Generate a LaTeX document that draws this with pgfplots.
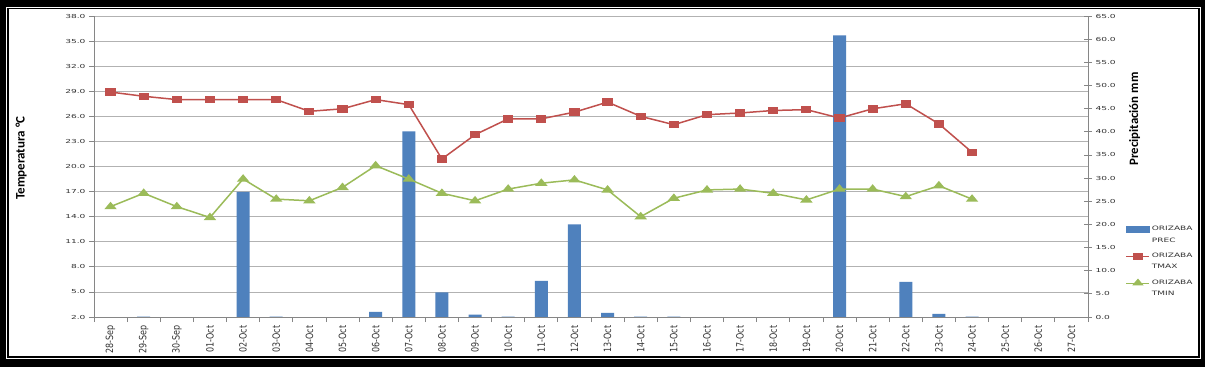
\documentclass[border=0pt]{standalone}
\usepackage{pgfplots}
\pgfplotsset{compat=1.18}
\usepackage{fontspec}
\usepackage{graphicx}
\setmainfont{DejaVu Sans}
\newfontfamily\titlefont{Carlito}

\definecolor{precblue}{RGB}{79,129,189}
\definecolor{tmaxred}{RGB}{192,80,77}
\definecolor{tmingreen}{RGB}{155,187,89}
\definecolor{gridgray}{RGB}{178,178,178}
\definecolor{axisgray}{RGB}{134,134,134}
\definecolor{labgray}{RGB}{50,50,50}

\newcommand{\xl}[1]{\scalebox{1}[1.25]{#1}}
\newcommand{\lgd}[1]{\scalebox{1.5}[1]{#1}}

\pgfplotsset{
  base/.style={at={(94pt,50pt)}, anchor=south west, scale only axis,
    width=994pt, height=301pt, xmin=-0.5, xmax=29.5},
  mylinelegend/.style={legend image code/.code={%
    \draw[mark repeat=2,mark phase=2,##1,line width=0.9pt] plot coordinates {(0pt,5.75pt) (11.5pt,5.75pt) (23pt,5.75pt)};}},
}

\begin{document}
\begin{tikzpicture}
\useasboundingbox (0,0) rectangle (1205pt,367pt);
\fill[black] (0,0) rectangle (1205pt,367pt);
\fill[white] (6pt,8pt) rectangle (1200.5pt,360pt);
\fill[black] (7.3pt,9pt) rectangle (1199.5pt,359pt);
\fill[white] (9.3pt,11pt) rectangle (1197.5pt,357.7pt);

% Axis A: temperature axis, grid, x labels
\begin{axis}[base,
  ymin=2, ymax=38, ytick={2,5,...,38},
  axis y line*=left, axis x line*=bottom,
  ymajorgrids, grid style={gridgray, line width=0.8pt},
  tick align=outside, major tick length=5pt,
  axis line style={axisgray, line width=0.8pt},
  every tick/.style={axisgray, line width=0.8pt},
  xtick={-0.5,0.5,...,29.5}, xticklabel=\empty,
  extra x ticks={0,1,...,29},
  extra x tick labels={\xl{28-Sep},\xl{29-Sep},\xl{30-Sep},\xl{01-Oct},\xl{02-Oct},\xl{03-Oct},\xl{04-Oct},\xl{05-Oct},\xl{06-Oct},\xl{07-Oct},\xl{08-Oct},\xl{09-Oct},\xl{10-Oct},\xl{11-Oct},\xl{12-Oct},\xl{13-Oct},\xl{14-Oct},\xl{15-Oct},\xl{16-Oct},\xl{17-Oct},\xl{18-Oct},\xl{19-Oct},\xl{20-Oct},\xl{21-Oct},\xl{22-Oct},\xl{23-Oct},\xl{24-Oct},\xl{25-Oct},\xl{26-Oct},\xl{27-Oct}},
  extra x tick style={tick style={draw=none}, grid=none},
  xticklabel style={rotate=90, anchor=east, font=\fontsize{8}{8}\selectfont, text=labgray},
  yticklabel={\scalebox{1.65}[1]{\pgfmathprintnumber[fixed,fixed zerofill,precision=1,assume math mode=true]{\tick}}},
  yticklabel style={font=\fontsize{5.5}{6}\selectfont, text=labgray},
  every axis y label/.style={at={(axis description cs:-0.0734,0.528)}, rotate=90, anchor=center},
  ylabel={\titlefont\bfseries\fontsize{13}{14}\selectfont Temperatura °C},
]
\end{axis}

% Axis B: precipitation axis with bars
\begin{axis}[base,
  ymin=0, ymax=65, ytick={0,5,...,65},
  axis y line*=right, axis x line=none,
  tick align=center, major tick length=8pt,
  axis line style={axisgray, line width=0.8pt},
  every tick/.style={axisgray, line width=0.8pt},
  yticklabel={\scalebox{1.65}[1]{\pgfmathprintnumber[fixed,fixed zerofill,precision=1,assume math mode=true]{\tick}}},
  yticklabel style={font=\fontsize{5.5}{6}\selectfont, text=labgray},
  every axis y label/.style={at={(axis description cs:1.047,0.658)}, rotate=90, anchor=center},
  ylabel={\titlefont\bfseries\fontsize{12.8}{14}\selectfont Precipitación mm},
]
\addplot[ybar, bar width=13pt, fill=precblue, draw=none] coordinates {
 (1,0.1) (4,27.0) (5,0.1) (8,1.1) (9,40.1) (10,5.3) (11,0.5) (12,0.1)
 (13,7.8) (14,20.0) (15,0.9) (16,0.1) (17,0.1) (22,60.8) (24,7.6) (25,0.7) (26,0.1)
};
\end{axis}

% Axis C: temperature lines and legend
\begin{axis}[base,
  ymin=2, ymax=38, hide axis, clip=false,
  legend style={at={(1.035,0.316)}, anchor=north west, draw=none, fill=none,
    font=\fontsize{6}{11.5}\selectfont, nodes={align=left, text=labgray}, row sep=5.5pt},
  legend cell align=left,
]
\addlegendimage{legend image code/.code={\fill[precblue] (0pt,2.95pt) rectangle (23pt,8.55pt);}}
\addlegendentry{\lgd{ORIZABA}\\\lgd{PREC}}
\addplot[tmaxred, line width=1.5pt, mark=square*, mark size=3pt,
  mark options={xscale=1.45, fill=tmaxred, draw=tmaxred}, mylinelegend] coordinates {
 (0,28.9) (1,28.4) (2,28.0) (3,28.0) (4,28.0) (5,28.0) (6,26.6) (7,26.9) (8,28.0)
 (9,27.4) (10,20.9) (11,23.8) (12,25.7) (13,25.7) (14,26.5) (15,27.7) (16,26.0)
 (17,25.0) (18,26.2) (19,26.4) (20,26.7) (21,26.8) (22,25.8) (23,26.9) (24,27.5)
 (25,25.1) (26,21.7)
};
\addlegendentry{\lgd{ORIZABA}\\\lgd{TMAX}}
\addplot[tmingreen, line width=1.5pt, mark=triangle*, mark size=3.7pt,
  mark options={xscale=1.45, fill=tmingreen, draw=tmingreen}, mylinelegend] coordinates {
 (0,15.2) (1,16.8) (2,15.2) (3,13.9) (4,18.5) (5,16.1) (6,15.9) (7,17.5) (8,20.1)
 (9,18.5) (10,16.8) (11,15.9) (12,17.3) (13,18.0) (14,18.4) (15,17.2) (16,14.0)
 (17,16.2) (18,17.2) (19,17.3) (20,16.8) (21,16.0) (22,17.3) (23,17.3) (24,16.4)
 (25,17.7) (26,16.1)
};
\addlegendentry{\lgd{ORIZABA}\\\lgd{TMIN}}
\end{axis}
\end{tikzpicture}
\end{document}
